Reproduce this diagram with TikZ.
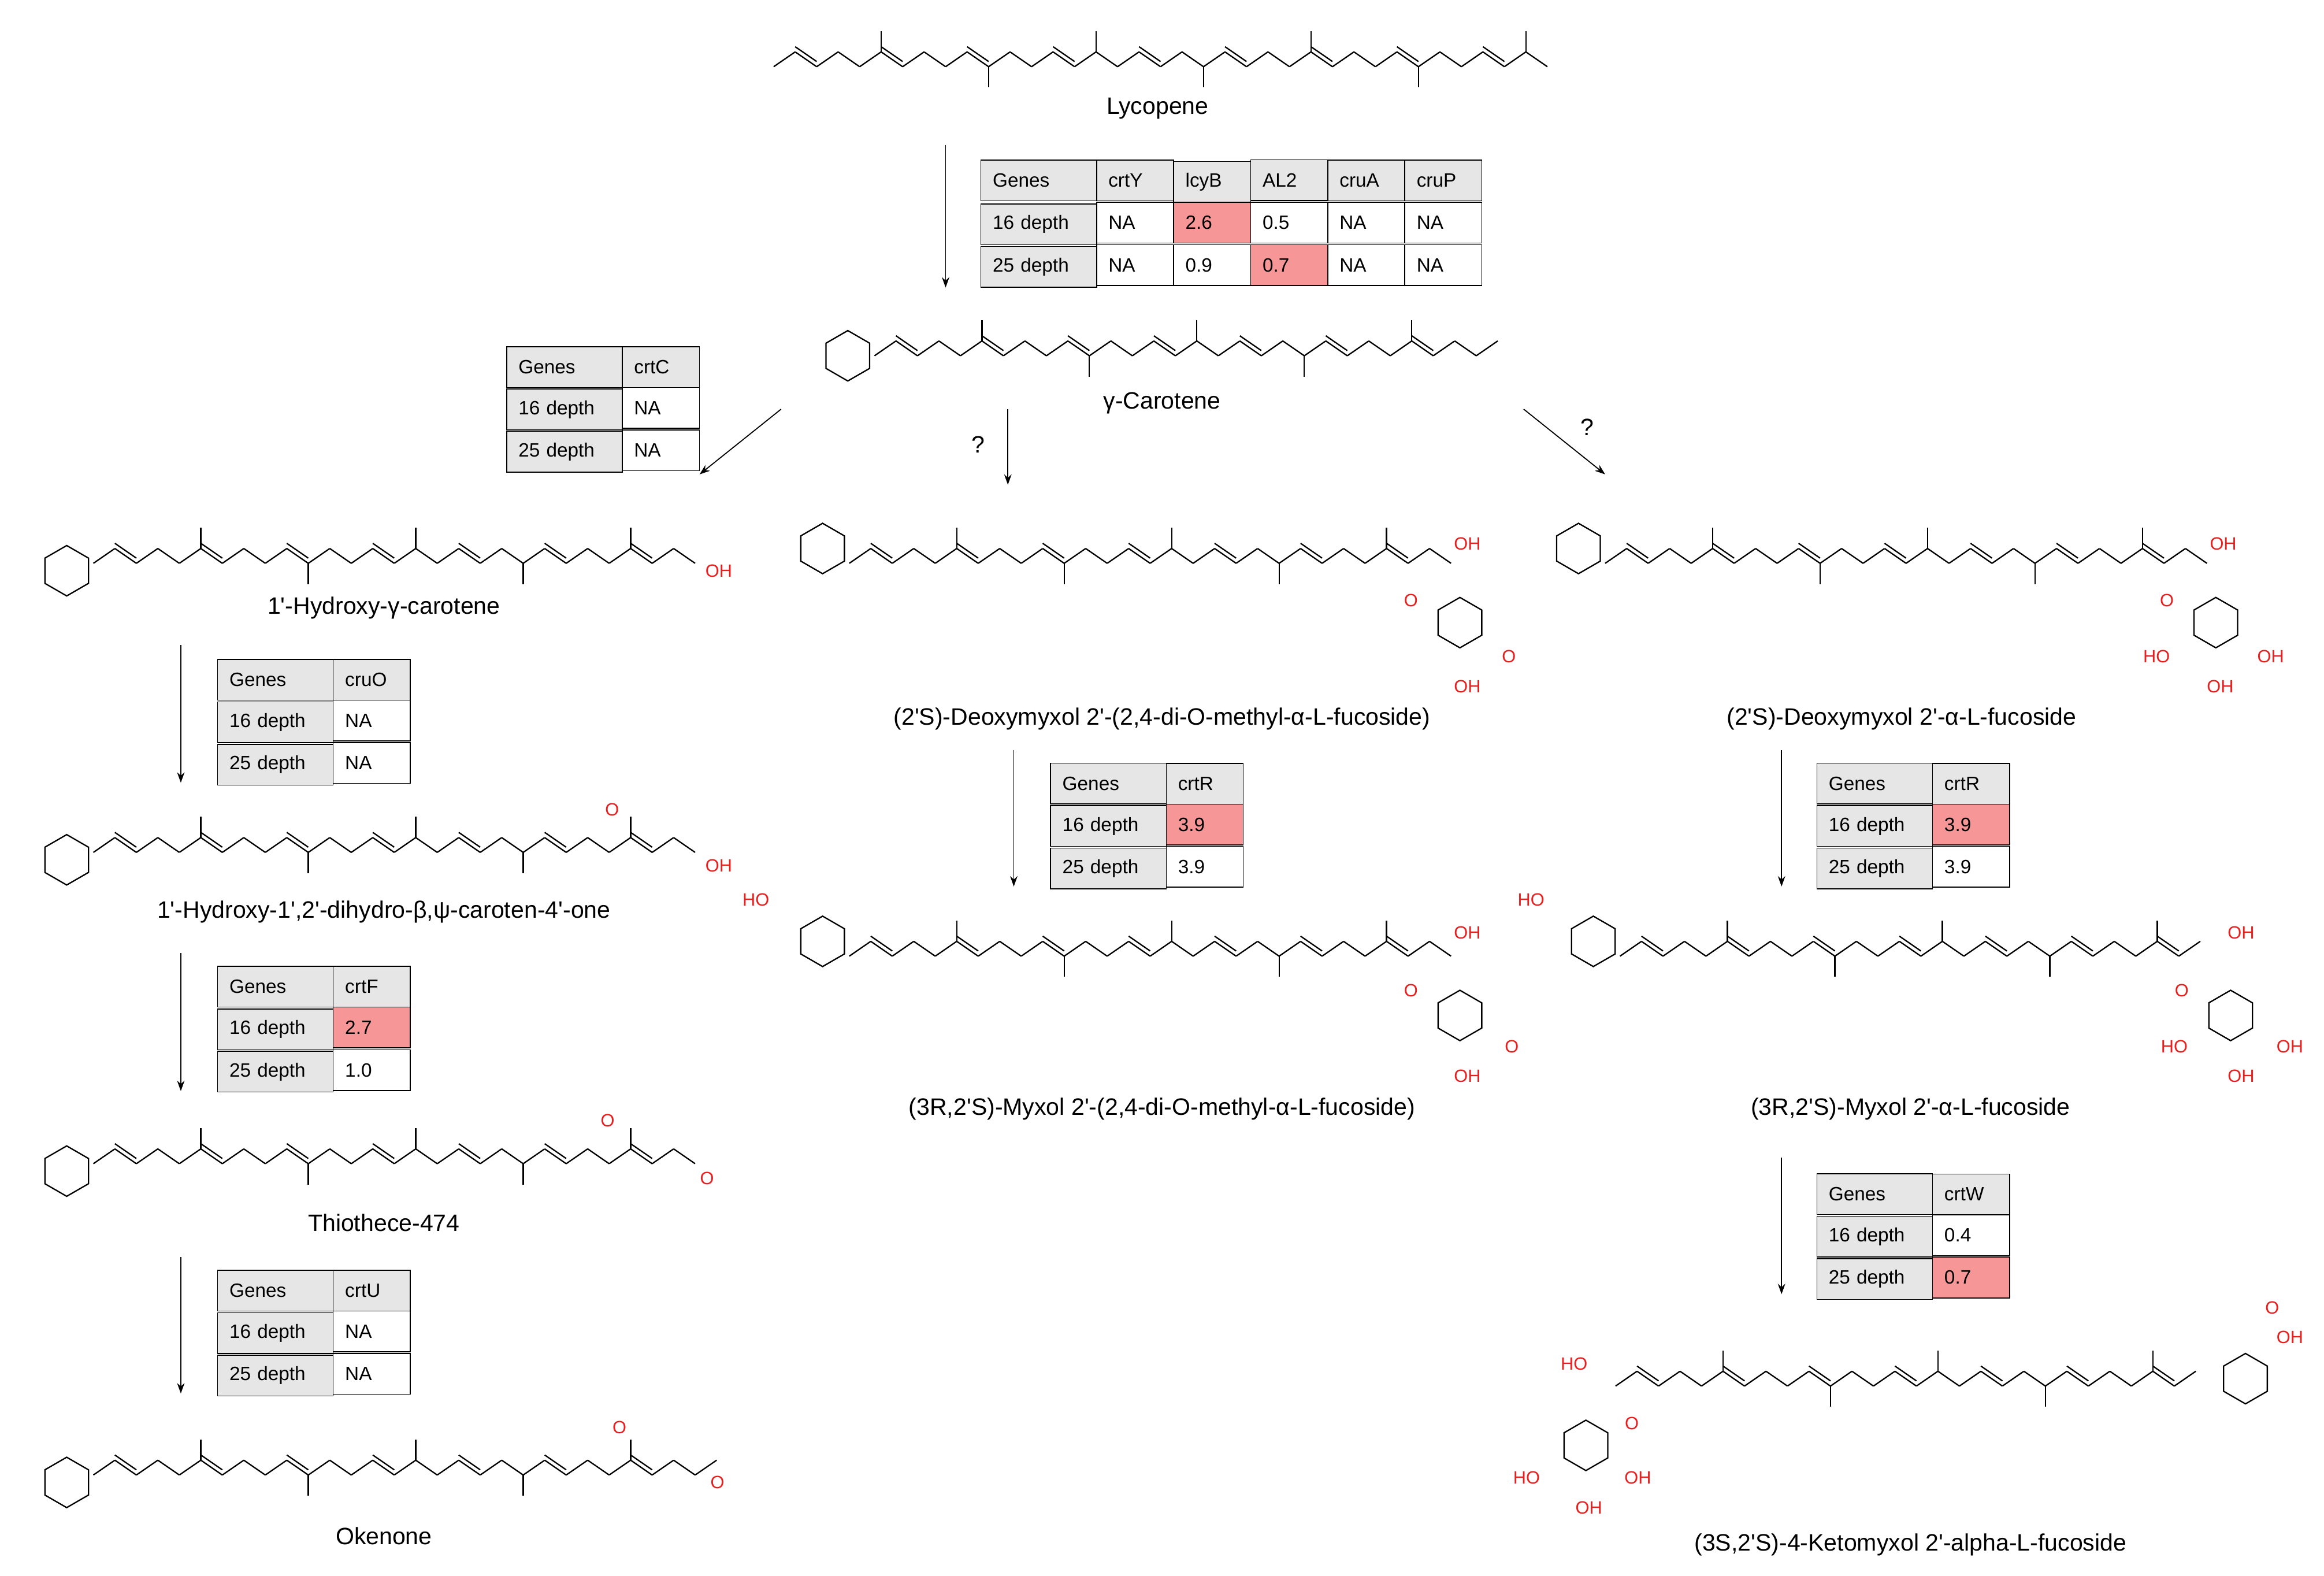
\documentclass[tikz,border=0pt]{standalone}
\usepackage{fontspec}
\setmainfont{Liberation Sans}[Ligatures=TeXOff]
\usetikzlibrary{arrows.meta,matrix,positioning}
\definecolor{hd}{RGB}{230,230,230}
\definecolor{pk}{RGB}{246,150,150}
\definecolor{ored}{RGB}{235,30,30}
% zigzag polyene chain: x, y, number of bonds
\newcommand{\polyene}[3]{%
  \foreach \i in {1,...,#3}{
    \pgfmathsetmacro\xa{#1+(\i-1)*14.5}
    \pgfmathsetmacro\xb{#1+\i*14.5}
    \pgfmathsetmacro\ya{#2-10*mod(\i-1,2)}
    \pgfmathsetmacro\yb{#2-10*mod(\i,2)}
    \draw[bond] (\xa,\ya) -- (\xb,\yb);
    \pgfmathparse{mod(\i,4)==2 ? 1 : 0}
    \ifnum\pgfmathresult=1 \draw[bond] ([yshift=3.5pt]\xa,\ya) -- ([yshift=3.5pt]\xb,\yb);\fi
    \pgfmathparse{mod(\i,5)==0 ? 1 : 0}
    \ifnum\pgfmathresult=1 \pgfmathsetmacro\ym{\yb+14-28*mod(\i,2)}\draw[bond] (\xb,\yb) -- (\xb,\ym);\fi
  }}
% six-ring at centre
\newcommand{\ring}[2]{%
  \draw[bond] (#1,#2) +(30:17) -- +(90:17) -- +(150:17) -- +(210:17) -- +(270:17) -- +(330:17) -- cycle;}
\begin{document}
\begin{tikzpicture}[x=1pt,y=-1pt,
    bond/.style={line width=0.9pt},
    arr/.style={-{Stealth[length=7pt,width=5pt]}, line width=0.7pt},
    lbl/.style={font=\fontsize{16}{18}\selectfont},
    atm/.style={text=ored, font=\fontsize{12}{14}\selectfont, inner sep=1pt},
    gtab/.style={matrix of nodes, anchor=north west, column sep=-0.6pt, row sep=-0.6pt,
      nodes={draw, line width=0.6pt, minimum height=27.5pt, text width=36pt, inner xsep=8pt,
        align=left, font=\fontsize{13}{15}\selectfont},
      column 1/.style={nodes={text width=62pt, fill=hd}},
      row 1/.style={nodes={fill=hd}}},
    hl/.style={fill=pk}
  ]
\useasboundingbox (0,0) rectangle (1568,1063);

% molecules
\polyene{522}{45}{36}
\node[lbl] (lyc) at (781,73) {Lycopene};
\ring{572}{240}\polyene{590}{240}{29}
\node[lbl] (gcar) at (784,272) {γ-Carotene};
\ring{45}{385}\polyene{63}{380}{28}
\node[atm] (oh1) at (485,385) {OH};
\node[lbl] (hgc) at (259,410) {1'-Hydroxy-γ-carotene};
\ring{45}{580}\polyene{63}{575}{28}
\node[atm] (o2) at (413,546) {O}; \node[atm] (oh2) at (485,584) {OH};
\node[lbl] (hdc) at (259,615) {1'-Hydroxy-1',2'-dihydro-β,ψ-caroten-4'-one};
\ring{45}{790}\polyene{63}{785}{28}
\node[atm] (o3) at (410,756) {O}; \node[atm] (o3b) at (477,795) {O};
\node[lbl] (thi) at (259,825) {Thiothece-474};
\ring{45}{1000}\polyene{63}{995}{29}
\node[atm] (o4) at (418,963) {O}; \node[atm] (o4b) at (484,1000) {O};
\node[lbl] (oke) at (259,1036) {Okenone};
\ring{555}{370}\polyene{573}{380}{28}\ring{985}{420}
\node[atm] (oh5) at (990,367) {OH}; \node[atm] (o5) at (952,405) {O};
\node[atm] (o5b) at (1018,443) {O}; \node[atm] (oh5b) at (990,463) {OH};
\node[lbl] (ddm) at (784,485) {(2'S)-Deoxymyxol 2'-(2,4-di-O-methyl-α-L-fucoside)};
\ring{1065}{370}\polyene{1083}{380}{28}\ring{1495}{420}
\node[atm] (oh6) at (1500,367) {OH}; \node[atm] (o6) at (1462,405) {O};
\node[atm] (ho6) at (1455,443) {HO}; \node[atm] (oh6b) at (1532,443) {OH}; \node[atm] (oh6c) at (1498,463) {OH};
\node[lbl] (ddf) at (1283,485) {(2'S)-Deoxymyxol 2'-α-L-fucoside};
\ring{555}{635}\polyene{573}{645}{28}\ring{985}{685}
\node[atm] (ho7) at (510,607) {HO}; \node[atm] (oh7) at (990,629) {OH};
\node[atm] (o7) at (952,668) {O}; \node[atm] (o7b) at (1020,706) {O}; \node[atm] (oh7b) at (990,726) {OH};
\node[lbl] (mym) at (784,748) {(3R,2'S)-Myxol 2'-(2,4-di-O-methyl-α-L-fucoside)};
\ring{1075}{635}\polyene{1093}{645}{27}\ring{1505}{685}
\node[atm] (ho8) at (1033,607) {HO}; \node[atm] (oh8) at (1512,629) {OH};
\node[atm] (o8) at (1472,668) {O}; \node[atm] (ho8b) at (1467,706) {HO};
\node[atm] (oh8b) at (1545,706) {OH}; \node[atm] (oh8c) at (1512,726) {OH};
\node[lbl] (myf) at (1289,748) {(3R,2'S)-Myxol 2'-α-L-fucoside};
\ring{1070}{975}\polyene{1090}{935}{27}\ring{1515}{930}
\node[atm] (ho9) at (1062,920) {HO}; \node[atm] (o9) at (1101,960) {O};
\node[atm] (o9b) at (1533,882) {O}; \node[atm] (oh9) at (1545,902) {OH};
\node[atm] (ho9b) at (1030,997) {HO}; \node[atm] (oh9b) at (1105,997) {OH}; \node[atm] (oh9c) at (1072,1017) {OH};
\node[lbl] (kmf) at (1289,1042) {(3S,2'S)-4-Ketomyxol 2'-alpha-L-fucoside};

% gene tables
\matrix (tyc) [gtab] at (658,104) {
  Genes & crtY & lcyB & AL2 & cruA & cruP \\
  16 depth & NA & |[hl]| 2.6 & 0.5 & NA & NA \\
  25 depth & NA & 0.9 & |[hl]| 0.7 & NA & NA \\};
\matrix (tc) [gtab] at (338,230) {
  Genes & crtC \\ 16 depth & NA \\ 25 depth & NA \\};
\matrix (to) [gtab] at (143,441) {
  Genes & cruO \\ 16 depth & NA \\ 25 depth & NA \\};
\matrix (tf) [gtab] at (143,648) {
  Genes & crtF \\ 16 depth & |[hl]| 2.7 \\ 25 depth & 1.0 \\};
\matrix (tu) [gtab] at (143,853) {
  Genes & crtU \\ 16 depth & NA \\ 25 depth & NA \\};
\matrix (tr1) [gtab] at (705,511) {
  Genes & crtR \\ 16 depth & |[hl]| 3.9 \\ 25 depth & 3.9 \\};
\matrix (tr2) [gtab] at (1222,511) {
  Genes & crtR \\ 16 depth & |[hl]| 3.9 \\ 25 depth & 3.9 \\};
\matrix (tw) [gtab] at (1222,788) {
  Genes & crtW \\ 16 depth & 0.4 \\ 25 depth & |[hl]| 0.7 \\};

% arrows
\coordinate (a1) at (638,98); \coordinate (b1) at (638,194);
\coordinate (a2) at (527,276); \coordinate (b2) at (472,320);
\coordinate (a3) at (680,276); \coordinate (b3) at (680,327);
\coordinate (a4) at (1028,276); \coordinate (b4) at (1083,320);
\coordinate (a5) at (122,435); \coordinate (b5) at (122,528);
\coordinate (a6) at (122,643); \coordinate (b6) at (122,736);
\coordinate (a7) at (122,848); \coordinate (b7) at (122,940);
\coordinate (a8) at (684,506); \coordinate (b8) at (684,598);
\coordinate (a9) at (1202,506); \coordinate (b9) at (1202,598);
\coordinate (a10) at (1202,781); \coordinate (b10) at (1202,873);
\foreach \k in {1,...,10} \draw[arr] (a\k) -- (b\k);
\node[lbl] (q1) at (660,300) {?};
\node[lbl] (q2) at (1071,288) {?};
\end{tikzpicture}
\end{document}
